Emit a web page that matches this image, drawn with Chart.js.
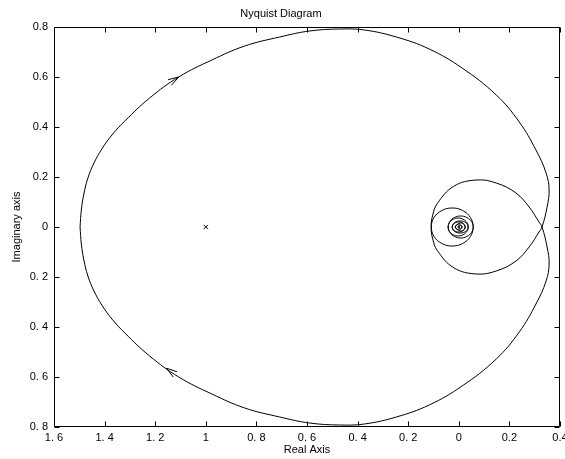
<!DOCTYPE html>
<html>
<head>
<meta charset="utf-8">
<title>Nyquist Diagram</title>
<script src="https://cdn.jsdelivr.net/npm/chart.js@4"></script>
<style>
  html, body { margin: 0; padding: 0; background: #fff; }
</style>
</head>
<body>
<canvas id="nyquist" width="565" height="459"></canvas>
<script>
// positive-frequency branch (real, imaginary)
const realPos = [
  -1.497, -1.492, -1.482, -1.466, -1.442, -1.411, -1.371, -1.320, -1.222, -1.107,
  -0.976, -0.846, -0.708, -0.590, -0.472, -0.373, -0.247, -0.117, 0.013, 0.148,
  0.239, 0.305, 0.345, 0.357, 0.349, 0.329,
  0.317, 0.278, 0.226, 0.148, 0.069, -0.020, -0.085, -0.103, -0.109,
  -0.098, -0.067, -0.026, 0.015, 0.046, 0.057,
  0.050, 0.032, 0.007, -0.017, -0.035, -0.042,
  -0.037, -0.022, -0.002, 0.017, 0.032, 0.037,
  0.028, 0.006, -0.017, -0.026,
  -0.019, 0, 0.018, 0.025,
  0.019, 0.006, -0.014,
  0, 0.013,
  0.006, -0.004, 0.002, 0.002
];
const imagPos = [
  0, 0.068, 0.132, 0.196, 0.256, 0.312, 0.368, 0.424, 0.516, 0.600,
  0.668, 0.724, 0.760, 0.784, 0.792, 0.788, 0.760, 0.712, 0.636, 0.528,
  0.420, 0.308, 0.216, 0.148, 0.080, 0,
  -0.020, -0.080, -0.136, -0.176, -0.188, -0.163, -0.094, -0.048, 0,
  0.038, 0.066, 0.076, 0.066, 0.038, 0,
  -0.022, -0.038, -0.044, -0.038, -0.022, 0,
  0.018, 0.031, 0.036, 0.031, 0.018, 0,
  -0.017, -0.024, -0.017, 0,
  0.014, 0.020, 0.014, 0,
  -0.011, -0.016, 0,
  0.012, 0,
  -0.006, 0, 0.004, 0
];
// negative-frequency branch (mirror image)
const imagNeg = [
  0, -0.068, -0.132, -0.196, -0.256, -0.312, -0.368, -0.424, -0.516, -0.600,
  -0.668, -0.724, -0.760, -0.784, -0.792, -0.788, -0.760, -0.712, -0.636, -0.528,
  -0.420, -0.308, -0.216, -0.148, -0.080, 0,
  0.020, 0.080, 0.136, 0.176, 0.188, 0.163, 0.094, 0.048, 0,
  -0.038, -0.066, -0.076, -0.066, -0.038, 0,
  0.022, 0.038, 0.044, 0.038, 0.022, 0,
  -0.018, -0.031, -0.036, -0.031, -0.018, 0,
  0.017, 0.024, 0.017, 0,
  -0.014, -0.020, -0.014, 0,
  0.011, 0.016, 0,
  -0.012, 0,
  0.006, 0, -0.004, 0
];

// critical point marker
const criticalRe = [-1];
const criticalIm = [0];

// arrow heads: where they sit on the curve
const arrowRe = [-1.107, -1.155];
const arrowIm = [0.600, -0.565];

const xTickLabels = ["1. 6", "1. 4", "1. 2", "1", "0. 8", "0. 6", "0. 4", "0. 2", "0", "0.2", "0.4"];
const yTickLabels = ["0. 8", "0. 6", "0. 4", "0. 2", "0", "0.2", "0.4", "0.6", "0.8"];

const FONT = { family: "'Liberation Sans', Arial, sans-serif", size: 11, weight: "normal" };

function toPoints(xs, ys) {
  return xs.map((x, i) => ({ x: x, y: ys[i] }));
}

// box around the plot with inward ticks on all four sides
const framePlugin = {
  id: "frame",
  afterDatasetsDraw(chart) {
    const { ctx, chartArea: a, scales } = chart;
    const L = Math.round(a.left) + 0.5, R = Math.round(a.right) - 0.5;
    const T = Math.round(a.top) + 0.5, B = Math.round(a.bottom) - 0.5;
    const len = 5;
    ctx.save();
    ctx.strokeStyle = "#000";
    ctx.lineWidth = 1;
    ctx.beginPath();
    ctx.rect(L, T, R - L, B - T);
    scales.x.ticks.forEach((t) => {
      const px = Math.round(scales.x.getPixelForValue(t.value)) + 0.5;
      ctx.moveTo(px, B); ctx.lineTo(px, B - len);
      ctx.moveTo(px, T); ctx.lineTo(px, T + len);
    });
    scales.y.ticks.forEach((t) => {
      const py = Math.round(scales.y.getPixelForValue(t.value)) + 0.5;
      ctx.moveTo(L, py); ctx.lineTo(L + len, py);
      ctx.moveTo(R, py); ctx.lineTo(R - len, py);
    });
    ctx.stroke();
    ctx.restore();
  },
};

// direction arrows on the big loop
const arrowPlugin = {
  id: "arrows",
  afterDatasetsDraw(chart) {
    const { ctx, scales: { x, y } } = chart;
    const branches = [
      { imag: imagPos, from: 8, to: 10 },
      { imag: imagNeg, from: 9, to: 8 },
    ];
    ctx.save();
    ctx.strokeStyle = "#000";
    ctx.lineWidth = 1;
    branches.forEach((b, k) => {
      const tx = x.getPixelForValue(arrowRe[k]);
      const ty = y.getPixelForValue(arrowIm[k]);
      const dx = x.getPixelForValue(realPos[b.to]) - x.getPixelForValue(realPos[b.from]);
      const dy = y.getPixelForValue(b.imag[b.to]) - y.getPixelForValue(b.imag[b.from]);
      const ang = Math.atan2(dy, dx);
      const size = 11, spread = 0.3;
      ctx.beginPath();
      ctx.moveTo(tx - size * Math.cos(ang - spread), ty - size * Math.sin(ang - spread));
      ctx.lineTo(tx, ty);
      ctx.lineTo(tx - size * Math.cos(ang + spread), ty - size * Math.sin(ang + spread));
      ctx.stroke();
    });
    ctx.restore();
  },
};

const curveStyle = {
  showLine: true,
  borderColor: "#000",
  borderWidth: 1,
  pointRadius: 0,
  tension: 0.4,
  fill: false,
};

const ctx = document.getElementById("nyquist").getContext("2d");
new Chart(ctx, {
  type: "scatter",
  data: {
    datasets: [
      Object.assign({ data: toPoints(realPos, imagPos) }, curveStyle),
      Object.assign({ data: toPoints(realPos, imagNeg) }, curveStyle),
      {
        data: toPoints(criticalRe, criticalIm),
        showLine: false,
        pointStyle: "crossRot",
        pointRadius: 3,
        borderColor: "#000",
        borderWidth: 1,
      },
    ],
  },
  options: {
    responsive: false,
    animation: false,
    layout: { padding: { left: 0, right: 3, top: 0, bottom: 0 } },
    plugins: {
      legend: { display: false },
      tooltip: { enabled: false },
      title: {
        display: true,
        text: "Nyquist Diagram",
        color: "#000",
        font: FONT,
        padding: { top: 7.5, bottom: 6.3 },
      },
    },
    scales: {
      x: {
        type: "linear",
        min: -1.6,
        max: 0.4,
        grid: { display: false, drawTicks: false },
        border: { display: false },
        ticks: {
          stepSize: 0.2,
          autoSkip: false,
          maxRotation: 0,
          padding: 4,
          color: "#000",
          font: FONT,
          callback: (v, i) => xTickLabels[i],
        },
        title: { display: true, text: "Real Axis", color: "#000", font: FONT, padding: { top: 0, bottom: 2 } },
        afterFit(s) {
          s.height = 32;
          s.paddingLeft = 0;
          s.paddingRight = 0;
        },
      },
      y: {
        type: "linear",
        min: -0.8,
        max: 0.8,
        grid: { display: false, drawTicks: false },
        border: { display: false },
        ticks: {
          stepSize: 0.2,
          autoSkip: false,
          padding: 6,
          color: "#000",
          font: FONT,
          callback: (v, i) => yTickLabels[i],
        },
        title: { display: true, text: "Imaginary axis", color: "#000", font: FONT, padding: { top: 10, bottom: 0 } },
        afterFit(s) {
          s.width = 54;
          s.paddingTop = 0;
          s.paddingBottom = 0;
        },
      },
    },
  },
  plugins: [framePlugin, arrowPlugin],
});
</script>
</body>
</html>
